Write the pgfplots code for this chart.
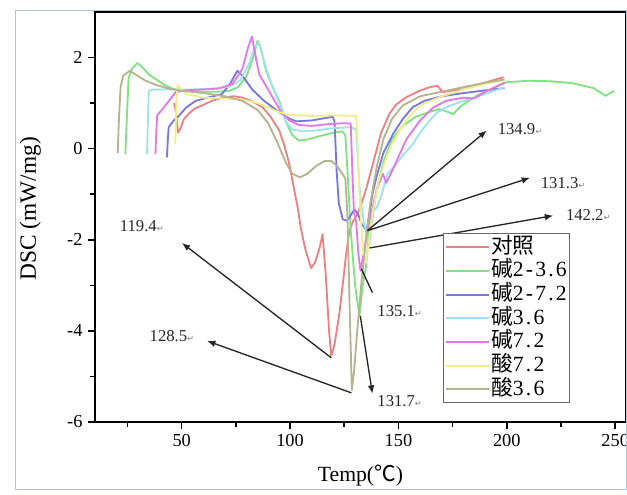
\documentclass[border=0pt]{standalone}
\usepackage{fontspec}
\setmainfont{Liberation Serif}
\newfontfamily\cjk{Noto Sans CJK SC}
\newfontfamily\sym{DejaVu Sans}
\usepackage{pgfplots}
\pgfplotsset{compat=1.18}
\usetikzlibrary{arrows.meta}

\definecolor{cRed}{RGB}{238,128,130}
\definecolor{cGreen}{RGB}{130,225,130}
\definecolor{cBlue}{RGB}{120,120,225}
\definecolor{cCyan}{RGB}{160,225,240}
\definecolor{cMag}{RGB}{228,120,228}
\definecolor{cYel}{RGB}{240,238,140}
\definecolor{cOli}{RGB}{180,180,145}
\definecolor{frameblue}{RGB}{175,195,215}

\newcommand{\ret}{{\sym\tiny\color{gray}↵}}

\begin{document}
\begin{tikzpicture}
\begin{axis}[
    scale only axis,
    width=318.6pt, height=246pt,
    xmin=10, xmax=255, ymin=-6, ymax=3,
    xtick={50,100,150,200,250},
    ytick={-6,-4,-2,0,2},
    minor xtick={25,75,125,175,225},
    minor ytick={-5,-3,-1,1},
    tick align=outside,
    xtick pos=left, ytick pos=left,
    major tick length=4pt, minor tick length=3pt,
    every tick/.style={black, line width=0.9pt},
    axis line style={line width=0.9pt},
    /pgf/number format/assume math mode=true,
    tick label style={font=\fontsize{11}{13}\selectfont},
    xlabel={Temp({\cjk ℃})},
    ylabel={DSC (mW/mg)},
    xlabel style={font=\fontsize{13}{15}\selectfont, at={(axis description cs:0.5,-0.13)}, anchor=center},
    ylabel style={font=\fontsize{14}{16}\selectfont, at={(axis description cs:-0.122,0.52)}, anchor=center},
    legend style={
        at={(axis description cs:0.655,0.46)}, anchor=north west,
        draw=gray!80!black, line width=0.6pt,
        font=\fontsize{13}{14}\selectfont\addfontfeatures{LetterSpace=10},
        inner sep=1pt,
        nodes={inner sep=0.6pt, text height=10pt, text depth=3pt},
        row sep=0pt,
    },
    legend cell align=left,
    legend image code/.code={\draw[#1, line width=1.2pt] (0pt,0pt) -- (26pt,0pt);},
    every axis plot/.append style={line width=1.1pt, line join=round},
    clip=false,
]

% 对照
\addplot[cRed] coordinates {
(46.5,1.0) (47.2,0.85) (48.3,0.35) (49.5,0.45) (51,0.65) (53.3,0.77) (56,0.88)
(59.4,0.95) (64,1.05) (68.6,1.12) (74,1.15) (78,1.12) (82,1.05) (87.3,0.91)
(91,0.7) (95,0.4) (97.5,0.05) (99.6,-0.33) (101.5,-0.8) (103.5,-1.29) (105,-1.75)
(107,-2.2) (109.7,-2.62) (111.5,-2.5) (113.5,-2.2) (115,-1.88) (116.5,-2.8)
(118,-4.0) (119,-4.55) (120.5,-4.3) (122.8,-3.6) (124.5,-2.9) (125.9,-2.3)
(127.4,-1.8) (129,-1.6) (131,-1.45) (133,-1.2) (135,-0.9) (137,-0.55)
(139.8,-0.05) (142,0.35) (145.9,0.77) (149,0.97) (153.6,1.13) (159.8,1.27)
(164.4,1.35) (168,1.38) (170.5,1.24) (174,1.27) (179.8,1.3) (185,1.38)
(190,1.45) (198.5,1.57)
};

% 碱2-3.6
\addplot[cGreen] coordinates {
(24,-0.12) (24.8,0.8) (25.5,1.55) (27,1.75) (29.5,1.88) (32,1.78) (35,1.62)
(38,1.53) (42,1.4) (46,1.31) (53,1.27) (60,1.25) (66,1.25) (72,1.27) (76,1.35)
(80,1.6) (83,2.0) (85,2.37) (86.5,2.2) (89,1.7) (92,1.35) (95,1.05) (98,0.6)
(101,0.3) (104,0.18) (108,0.2) (114,0.28) (120,0.35) (124,0.38) (125.5,0.3)
(126.5,-0.5) (128,-1.8) (130,-3.0) (132,-3.67) (133.5,-3.0) (135,-2.6)
(136.5,-1.8) (138,-1.5) (140,-0.9) (143,-0.3) (147,0.2) (152,0.5) (158,0.7)
(164,0.8) (169,0.87) (172,0.82) (175.3,0.76) (178.3,0.91) (181.4,1.02)
(186,1.16) (195,1.35) (200,1.46) (210,1.49) (220,1.48) (230,1.44) (240,1.33)
(245.5,1.16) (249.5,1.27)
};

% 碱2-7.2
\addplot[cBlue] coordinates {
(43.2,-0.19) (43.6,0.2) (44,0.47) (46,0.6) (48.7,0.72) (52,0.9) (56.4,1.05)
(62,1.12) (68.6,1.2) (72,1.4) (75.7,1.71) (78,1.6) (82.5,1.3) (88,1.05)
(95,0.8) (100,0.65) (103,0.6) (110,0.62) (116,0.67) (119.7,0.7) (120.5,0.6)
(121.5,-0.5) (122.5,-1.2) (124.3,-1.55) (126,-1.58) (127.5,-1.5) (129.7,-1.33)
(131.5,-1.45) (133,-1.65) (135.3,-1.8) (136.8,-1.4) (138,-1.0) (140,-0.6)
(143,-0.1) (147.5,0.32) (152,0.65) (156.6,0.91) (162,1.05) (170,1.15)
(180,1.22) (190,1.28) (199,1.33)
};

% 碱3.6
\addplot[cCyan] coordinates {
(34,-0.12) (34.4,0.6) (34.8,1.27) (37,1.3) (45,1.3) (55,1.3) (65,1.32)
(72,1.36) (77,1.5) (81,1.85) (83.5,2.2) (85.7,2.34) (87,2.1) (89,1.75)
(92,1.35) (95,1.0) (98,0.6) (101,0.42) (106,0.38) (112,0.4) (120,0.45)
(128,0.47) (130.5,0.42) (131.3,-0.3) (132.3,-1.0) (134,-1.6) (136.5,-2.15)
(137.5,-1.7) (138.5,-1.35) (140,-1.3) (142,-1.05) (145,-0.55) (149,-0.34)
(152,-0.15) (156.6,0.1) (160,0.35) (164.4,0.62) (168,0.8) (172.2,0.91)
(177,1.0) (183,1.09) (190,1.2) (199,1.35)
};

% 碱7.2
\addplot[cMag] coordinates {
(37.9,-0.12) (38.3,0.4) (38.7,0.73) (42.5,0.95) (47.2,1.24) (52,1.28)
(60,1.3) (67.2,1.32) (73.4,1.42) (78,1.75) (80.5,2.2) (82.4,2.46) (84,2.05)
(85.7,1.64) (91.9,1.13) (96,0.8) (99.6,0.62) (104,0.52) (110,0.5) (118,0.54)
(125,0.56) (128,0.55) (128.8,-0.6) (129.5,-1.4) (130.5,-1.6) (131.5,-2.3)
(132.5,-2.68) (134,-2.3) (135.1,-1.95) (137,-1.5) (140,-0.9) (142.8,-0.55)
(144.4,-0.75) (147.5,-0.45) (153.6,0.2) (160,0.62) (166,0.9) (172,1.05)
(180,1.12) (185,1.1) (190,1.25) (199,1.45)
};

% 酸7.2
\addplot[cYel] coordinates {
(47,0.1) (47.5,0.9) (48,1.4) (52,1.2) (60,1.12) (70,1.1) (78,1.08) (85,1.0)
(90,0.9) (95,0.8) (100,0.74) (110,0.72) (120,0.73) (130.5,0.72) (131,0.3)
(132,-1.0) (133.5,-2.2) (135,-2.5) (136.5,-2.0) (138,-1.4) (141,-0.7)
(144.4,-0.19) (147,0.1) (150.6,0.4) (155,0.7) (160,0.95) (170,1.15)
(180,1.3) (190,1.42) (199,1.5)
};

% 酸3.6
\addplot[cOli] coordinates {
(20.5,-0.1) (21,0.6) (21.8,1.35) (23,1.6) (26,1.71) (29,1.62) (33,1.5)
(38,1.4) (44,1.32) (50,1.27) (60,1.22) (70,1.15) (78,1.05) (85,0.85)
(90,0.55) (94,0.15) (98,-0.3) (101,-0.55) (104.5,-0.63) (108,-0.55)
(112,-0.38) (116,-0.27) (119,-0.27) (122,-0.4) (125.5,-0.65) (126.5,-1.5)
(127.5,-3.5) (128.5,-5.3) (129.5,-4.9) (131,-4.0) (133,-2.9) (135,-2.0)
(137,-1.2) (140,-0.4) (143,0.2) (147,0.65) (152,0.95) (160,1.15) (170,1.25)
(180,1.35) (190,1.45) (199,1.52)
};

\legend{{\cjk 对照}, {\cjk 碱}2-3.6, {\cjk 碱}2-7.2, {\cjk 碱}3.6, {\cjk 碱}7.2, {\cjk 酸}7.2, {\cjk 酸}3.6}

% annotations
\begin{scope}[black!85, line width=0.8pt, font=\fontsize{10}{12}\selectfont]
\draw[-{Latex[length=5pt,width=4pt]}] (axis cs:119.0,-4.59) -- (axis cs:50.1,-2.07);
\node at (axis cs:31.6,-1.69) {119.4\ret};
\draw[-{Latex[length=5pt,width=4pt]}] (axis cs:128.3,-5.36) -- (axis cs:61.7,-4.22);
\node at (axis cs:45.5,-4.11) {128.5\ret};
\draw (axis cs:132.9,-2.64) -- (axis cs:138,-3.16);
\node at (axis cs:150.6,-3.56) {135.1\ret};
\draw[-{Latex[length=5pt,width=4pt]}] (axis cs:132.4,-3.67) -- (axis cs:138,-5.38);
\node at (axis cs:150.6,-5.54) {131.7\ret};
\draw[-{Latex[length=5pt,width=4pt]}] (axis cs:135.7,-1.80) -- (axis cs:190.8,0.40);
\node at (axis cs:206.1,0.44) {134.9\ret};
\draw[-{Latex[length=5pt,width=4pt]}] (axis cs:135.7,-1.80) -- (axis cs:210.7,-0.64);
\node at (axis cs:226,-0.75) {131.3\ret};
\draw[-{Latex[length=5pt,width=4pt]}] (axis cs:136.7,-2.18) -- (axis cs:221.4,-1.47);
\node at (axis cs:237.6,-1.45) {142.2\ret};
\end{scope}
\end{axis}
\draw[frameblue, line width=0.6pt] (-47.4pt,-40.2pt) rectangle (318.6pt,246.6pt);
\pgfresetboundingbox
\useasboundingbox (-57pt,-43.2pt) rectangle (319.2pt,253.2pt);
\end{tikzpicture}
\end{document}
